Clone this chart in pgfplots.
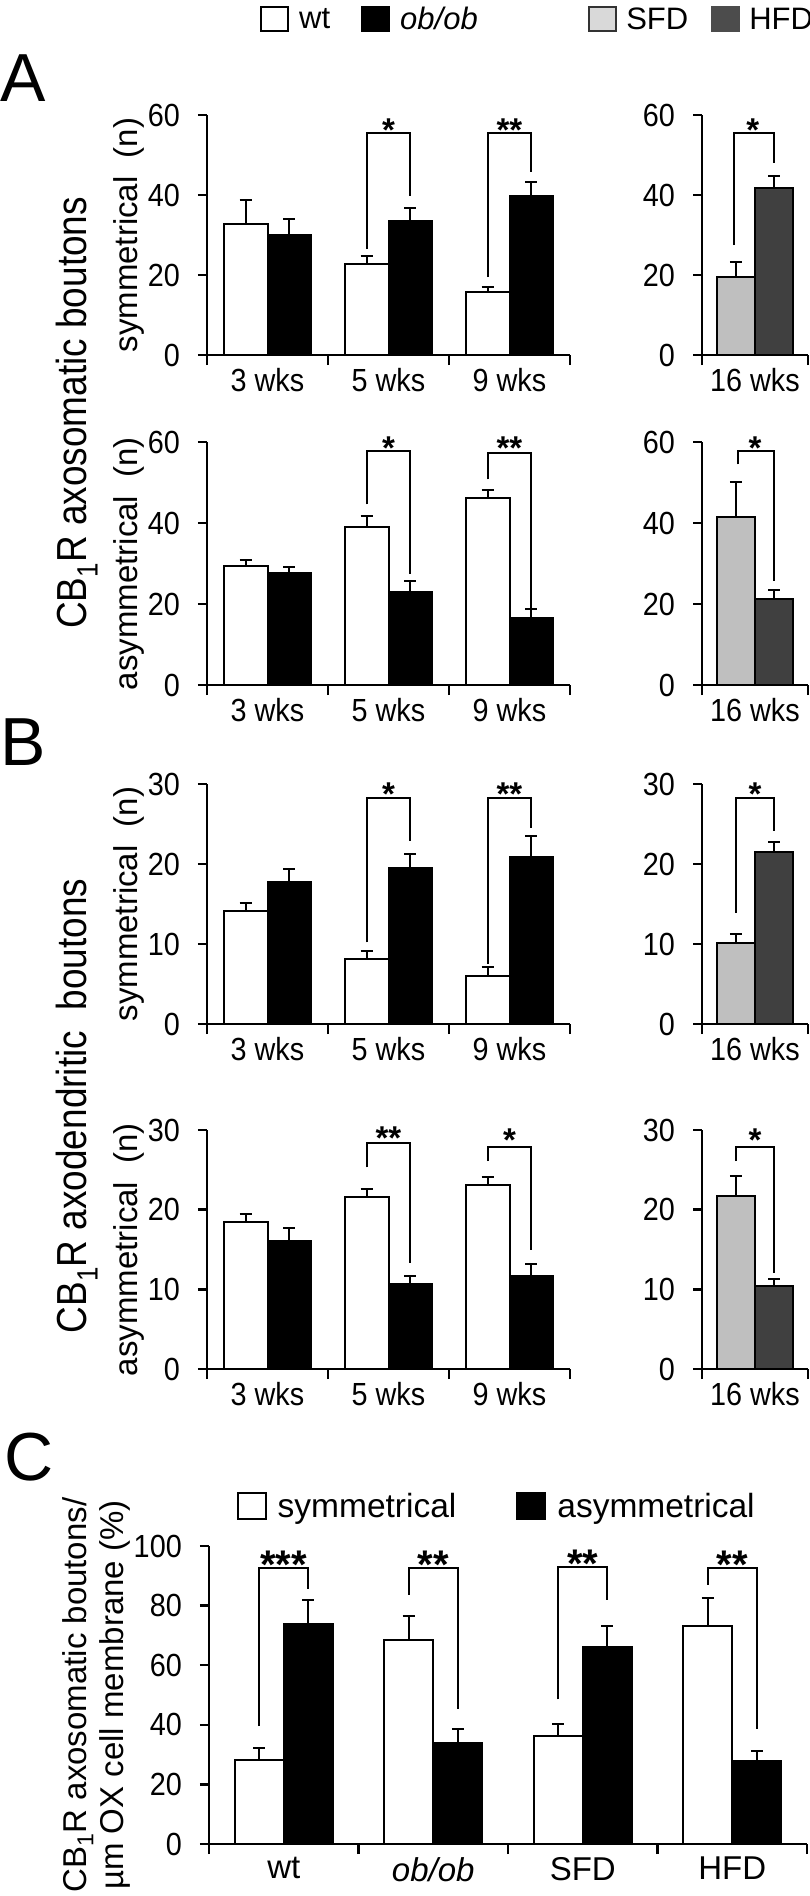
\documentclass[border=0pt]{standalone}
\usepackage{fontspec}
\setmainfont{Liberation Sans}
\newfontfamily\tickfam{Liberation Sans}[FakeStretch=0.9]
\newfontfamily\bigfam{Liberation Sans}[FakeStretch=0.88]
\usepackage{pgfplots}
\pgfplotsset{compat=1.18}

\newcommand\tickfont{\tickfam\fontsize{32}{36}\selectfont}
\newcommand\labfont{\fontsize{33}{38}\selectfont}
\newcommand\bigfont{\bigfam\fontsize{42}{46}\selectfont}
\newcommand\legfont{\fontsize{31}{36}\selectfont}
\newcommand\cfont{\fontsize{33}{37}\selectfont}
\newcommand\starfont{\fontsize{33}{36}\selectfont\bfseries}
\newcommand\panelfont{\fontsize{68}{70}\selectfont}

\definecolor{sfd}{gray}{0.75}
\definecolor{hfd}{gray}{0.25}

\pgfplotsset{
  base/.style={
    scale only axis, clip=false,
    axis x line*=bottom, axis y line*=left,
    axis line style={line width=2.5pt},
    tick align=outside,
    major tick length=9pt, minor tick length=10pt,
    tick style={black, line width=2.5pt},
    every major x tick/.append style={draw=none},
    ymin=0, enlargelimits=false,
    /pgf/number format/assume math mode=true,
    tick label style={font=\tickfont},
    yticklabel style={inner sep=0pt, xshift=-18pt},
    xticklabel style={inner sep=0pt, yshift=-4pt},
    ylabel style={font=\labfont, at={(axis description cs:-0.191,0.5)}, anchor=base},
    legend style={draw=none, fill=none, inner sep=0pt, font=\legfont,
      nodes={inner sep=0pt}, anchor=west},
    legend columns=2,
  },
  leftp/.style={base, width=363pt, xmin=-0.5, xmax=2.5, xtick={0,1,2},
    xticklabels={3 wks,5 wks,9 wks}, minor xtick={-0.5,0.5,1.5,2.5}, bar width=0.36},
  rightp/.style={base, width=106pt, xmin=-0.5, xmax=0.5, xtick={0},
    xticklabels={16 wks}, minor xtick={-0.5,0.5}, bar width=0.36},
  wtbar/.style={ybar, bar shift=0pt, draw=black, fill=white, line width=2pt},
  obbar/.style={ybar, bar shift=0pt, draw=black, fill=black, line width=2pt},
  sfdbar/.style={ybar, bar shift=0pt, draw=black, fill=sfd, line width=2pt},
  hfdbar/.style={ybar, bar shift=0pt, draw=black, fill=hfd, line width=2pt},
  eb/.style={error bars/y dir=plus, error bars/y explicit,
    error bars/error bar style={line width=2pt, black},
    error bars/error mark options={rotate=90, line width=2pt, black, mark size=6pt}},
  legwt/.style={legend image code/.code={\draw[draw=black,fill=white,line width=2pt] (0pt,-12pt) rectangle (27pt,12pt);}},
  legob/.style={legend image code/.code={\draw[draw=black,fill=black,line width=2pt] (0pt,-12pt) rectangle (27pt,12pt);}},
  legsfd/.style={legend image code/.code={\draw[draw=black!80,fill=black!15,line width=2pt] (0pt,-12pt) rectangle (27pt,12pt);}},
  leghfd/.style={legend image code/.code={\draw[draw=black!70,fill=black!70,line width=2pt] (0pt,-12pt) rectangle (27pt,12pt);}},
}
\tikzset{
  brk/.style={line width=2pt, black},
  star/.style={font=\starfont, inner sep=0pt, yshift=-7pt},
}

\begin{document}
\begin{tikzpicture}
\useasboundingbox (0pt,0pt) rectangle (810pt,-1896pt);

% A, symmetrical
\begin{axis}[leftp, at={(207pt,-355pt)}, anchor=south west, height=240pt,
  ymax=60, ytick={0,20,40,60}, ylabel={symmetrical\ \ (n)},
  legend style={at={(0.146,1.398)}, /tikz/every odd column/.style={column sep=10pt},
    /tikz/every even column/.style={column sep=31pt}}]
\addlegendimage{legwt}\addlegendentry{wt}
\addlegendimage{legob}\addlegendentry{\textit{ob/ob}}
\addplot[wtbar, eb] coordinates {(-0.18,32.7) +- (0,6.0) (0.82,22.8) +- (0,2.0) (1.82,15.7) +- (0,1.4)};
\addplot[obbar, eb] coordinates {(0.18,29.9) +- (0,4.2) (1.18,33.5) +- (0,3.3) (2.18,39.7) +- (0,3.6)};
\draw[brk] (axis cs:0.82,26.5) |- (axis cs:1.18,55.5) -- (axis cs:1.18,39.8);
\draw[brk] (axis cs:1.82,19.5) |- (axis cs:2.18,55.5) -- (axis cs:2.18,45.8);
\node[star] at (axis cs:1,58) {*};
\node[star] at (axis cs:2,58) {**};
\end{axis}

\begin{axis}[rightp, at={(702pt,-355pt)}, anchor=south west, height=240pt,
  ymax=60, ytick={0,20,40,60},
  legend style={at={(-1.075,1.398)}, /tikz/every odd column/.style={column sep=9pt},
    /tikz/every even column/.style={column sep=23pt}}]
\addlegendimage{legsfd}\addlegendentry{SFD}
\addlegendimage{leghfd}\addlegendentry{HFD}
\addplot[sfdbar, eb] coordinates {(-0.18,19.6) +- (0,3.7)};
\addplot[hfdbar, eb] coordinates {(0.18,41.7) +- (0,3.1)};
\draw[brk] (axis cs:-0.2,27.5) |- (axis cs:0.18,55.5) -- (axis cs:0.18,47.9);
\node[star] at (axis cs:-0.02,58) {*};
\end{axis}

% A, asymmetrical
\begin{axis}[leftp, at={(207pt,-685pt)}, anchor=south west, height=243pt,
  ymax=60, ytick={0,20,40,60}, ylabel={asymmetrical\ \ (n)}]
\addplot[wtbar, eb] coordinates {(-0.18,29.4) +- (0,1.5) (0.82,39.1) +- (0,2.6) (1.82,46.1) +- (0,2.0)};
\addplot[obbar, eb] coordinates {(0.18,27.65) +- (0,1.45) (1.18,22.9) +- (0,2.7) (2.18,16.6) +- (0,2.1)};
\draw[brk] (axis cs:0.82,44.6) |- (axis cs:1.18,57.7) -- (axis cs:1.18,27.3);
\draw[brk] (axis cs:1.82,50.8) |- (axis cs:2.18,57.4) -- (axis cs:2.18,19.1);
\node[star] at (axis cs:1,60.2) {*};
\node[star] at (axis cs:2,60.2) {**};
\end{axis}

\begin{axis}[rightp, at={(702pt,-685pt)}, anchor=south west, height=243pt,
  ymax=60, ytick={0,20,40,60}]
\addplot[sfdbar, eb] coordinates {(-0.18,41.6) +- (0,8.5)};
\addplot[hfdbar, eb] coordinates {(0.18,21.15) +- (0,2.35)};
\draw[brk] (axis cs:-0.16,54.5) |- (axis cs:0.18,57.7) -- (axis cs:0.18,25.7);
\node[star] at (axis cs:0,60.2) {*};
\end{axis}

% B, symmetrical
\begin{axis}[leftp, at={(207pt,-1024pt)}, anchor=south west, height=240pt,
  ymax=30, ytick={0,10,20,30}, ylabel={symmetrical\ \ (n)}]
\addplot[wtbar, eb] coordinates {(-0.18,14.07) +- (0,1.0) (0.82,8.1) +- (0,1.0) (1.82,6.06) +- (0,1.04)};
\addplot[obbar, eb] coordinates {(0.18,17.8) +- (0,1.6) (1.18,19.5) +- (0,1.8) (2.18,20.9) +- (0,2.6)};
\draw[brk] (axis cs:0.82,10.2) |- (axis cs:1.18,28.2) -- (axis cs:1.18,22.9);
\draw[brk] (axis cs:1.82,7.5) |- (axis cs:2.18,28.2) -- (axis cs:2.18,24.5);
\node[star] at (axis cs:1,29.6) {*};
\node[star] at (axis cs:2,29.6) {**};
\end{axis}

\begin{axis}[rightp, at={(702pt,-1024pt)}, anchor=south west, height=240pt,
  ymax=30, ytick={0,10,20,30}]
\addplot[sfdbar, eb] coordinates {(-0.18,10.1) +- (0,1.1)};
\addplot[hfdbar, eb] coordinates {(0.18,21.45) +- (0,1.35)};
\draw[brk] (axis cs:-0.18,13.9) |- (axis cs:0.18,28.2) -- (axis cs:0.18,24.1);
\node[star] at (axis cs:0,29.6) {*};
\end{axis}

% B, asymmetrical
\begin{axis}[leftp, at={(207pt,-1369pt)}, anchor=south west, height=239pt,
  ymax=30, ytick={0,10,20,30}, ylabel={asymmetrical\ \ (n)}]
\addplot[wtbar, eb] coordinates {(-0.18,18.5) +- (0,1.0) (0.82,21.6) +- (0,1.0) (1.82,23.1) +- (0,1.0)};
\addplot[obbar, eb] coordinates {(0.18,16.1) +- (0,1.6) (1.18,10.7) +- (0,0.95) (2.18,11.65) +- (0,1.55)};
\draw[brk] (axis cs:0.82,25.3) |- (axis cs:1.18,28.4) -- (axis cs:1.18,13.3);
\draw[brk] (axis cs:1.82,26.1) |- (axis cs:2.18,27.9) -- (axis cs:2.18,14.9);
\node[star] at (axis cs:1,29.8) {**};
\node[star] at (axis cs:2,29.6) {*};
\end{axis}

\begin{axis}[rightp, at={(702pt,-1369pt)}, anchor=south west, height=239pt,
  ymax=30, ytick={0,10,20,30}]
\addplot[sfdbar, eb] coordinates {(-0.18,21.7) +- (0,2.5)};
\addplot[hfdbar, eb] coordinates {(0.18,10.4) +- (0,0.95)};
\draw[brk] (axis cs:-0.18,26.1) |- (axis cs:0.18,27.9) -- (axis cs:0.18,12.0);
\node[star] at (axis cs:0,29.6) {*};
\end{axis}

% C
\begin{axis}[base, at={(209pt,-1844pt)}, anchor=south west, width=598pt, height=298pt,
  xmin=-0.5, xmax=3.5, xtick={0,1,2,3}, xticklabels={wt,\textit{ob/ob},SFD,HFD},
  xticklabel style={font=\fontsize{33}{36}\selectfont},
  minor xtick={-0.5,0.5,1.5,2.5,3.5}, bar width=0.328,
  ymax=100, ytick={0,20,40,60,80,100},
  ylabel={CB\textsubscript{1}R axosomatic boutons/\\µm OX cell membrane (\%)},
  ylabel style={font=\cfont, align=center, at={(axis description cs:-0.189,0.5)}, anchor=center},
  legend style={at={(0.046,1.134)}, font=\fontsize{33.5}{36}\selectfont,
    /tikz/every odd column/.style={column sep=11pt},
    /tikz/every even column/.style={column sep=60pt}}]
\addlegendimage{legend image code/.code={\draw[draw=black,fill=white,line width=2pt] (0pt,-13pt) rectangle (28pt,13pt);}}
\addlegendentry{symmetrical}
\addlegendimage{legend image code/.code={\draw[draw=black,fill=black,line width=2pt] (0pt,-13pt) rectangle (28pt,13pt);}}
\addlegendentry{asymmetrical}
\addplot[wtbar, eb] coordinates {(-0.164,28.2) +- (0,3.9) (0.836,68.3) +- (0,8.2) (1.836,36.3) +- (0,3.9) (2.836,73.3) +- (0,9.3)};
\addplot[obbar, eb] coordinates {(0.164,73.9) +- (0,8.1) (1.164,33.9) +- (0,4.6) (2.164,66.0) +- (0,7.1) (3.164,27.9) +- (0,3.2)};
\draw[brk] (axis cs:-0.164,39.6) |- (axis cs:0.164,92.5) -- (axis cs:0.164,85.6);
\draw[brk] (axis cs:0.836,83.7) |- (axis cs:1.164,92.5) -- (axis cs:1.164,45.2);
\draw[brk] (axis cs:1.836,48.5) |- (axis cs:2.164,93.0) -- (axis cs:2.164,82.0);
\draw[brk] (axis cs:2.836,87.0) |- (axis cs:3.164,92.5) -- (axis cs:3.164,38.5);
\node[star, font=\fontsize{40}{40}\selectfont\bfseries] at (axis cs:0,96) {***};
\node[star, font=\fontsize{40}{40}\selectfont\bfseries] at (axis cs:1,96) {**};
\node[star, font=\fontsize{40}{40}\selectfont\bfseries] at (axis cs:2,96.5) {**};
\node[star, font=\fontsize{40}{40}\selectfont\bfseries] at (axis cs:3,96) {**};
\end{axis}

% panel letters and shared labels
\node[font=\panelfont, anchor=base west, inner sep=0pt] at (0pt,-101pt) {A};
\node[font=\panelfont, anchor=base west, inner sep=0pt] at (0pt,-765pt) {B};
\node[font=\panelfont, anchor=base west, inner sep=0pt] at (4pt,-1480pt) {C};
\node[font=\bigfont, rotate=90, anchor=base, inner sep=0pt] at (86pt,-413pt) {CB\textsubscript{1}R axosomatic boutons};
\node[font=\bigfont, rotate=90, anchor=base, inner sep=0pt] at (86pt,-1106pt) {CB\textsubscript{1}R axodendritic\ \ boutons};
\end{tikzpicture}
\end{document}
